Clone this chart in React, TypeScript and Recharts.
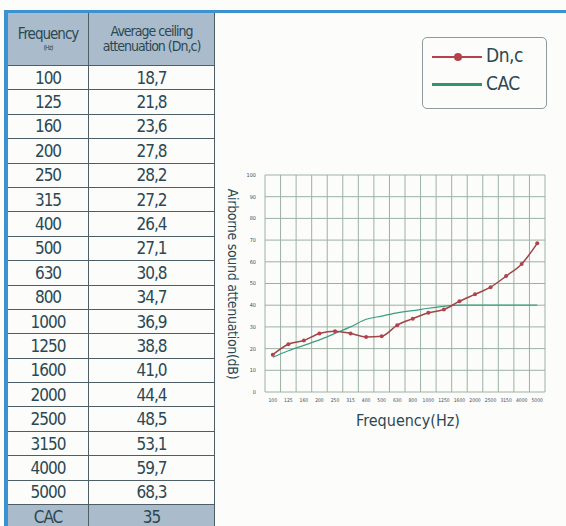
import React from 'react';
import { LineChart, Line, XAxis, YAxis, CartesianGrid } from 'recharts';

// frequency bands (Hz)
const frequencies = [100, 125, 160, 200, 250, 315, 400, 500, 630, 800, 1000, 1250, 1600, 2000, 2500, 3150, 4000, 5000];
// table column: average ceiling attenuation
const tableDnc = ['18,7', '21,8', '23,6', '27,8', '28,2', '27,2', '26,4', '27,1', '30,8', '34,7', '36,9', '38,8', '41,0', '44,4', '48,5', '53,1', '59,7', '68,3'];
// curve as drawn in the plot
const plotDnc = [17.2, 22, 23.7, 27, 28, 27, 25.4, 25.7, 30.8, 33.8, 36.5, 38, 41.8, 45, 48.3, 53.4, 59, 68.5];
const plotCac = [16, 19, 21.5, 24, 27, 30, 33.5, 35, 36.5, 37.5, 38.6, 39.5, 40, 40, 40, 40, 40, 40];
const yTicks = [0, 10, 20, 30, 40, 50, 60, 70, 80, 90, 100];
const cacValue = '35';

const chartData = frequencies.map((f, i) => ({ idx: i, freq: f, dnc: plotDnc[i], cac: plotCac[i] }));

const FONT = '"DejaVu Sans Condensed", "Liberation Sans Narrow", "Arial Narrow", sans-serif';
const TEXT = '#2b4853';
const LINE = '#4d5e66';
const HEAD_BG = '#aabccb';

const ROW_H = 24.4;

function Cell({ w, children, bg, size = 17 }: { w: number; children: React.ReactNode; bg?: string; size?: number }) {
  return (
    <div
      style={{
        width: w,
        height: '100%',
        display: 'flex',
        alignItems: 'center',
        justifyContent: 'center',
        boxSizing: 'border-box',
        borderRight: `1px solid ${LINE}`,
        background: bg,
        fontSize: size,
        letterSpacing: -1,
      }}
    >
      {children}
    </div>
  );
}

function Table() {
  return (
    <div style={{ position: 'absolute', left: 8, top: 13, width: 207, fontFamily: FONT, color: TEXT }}>
      <div style={{ display: 'flex', height: 53, borderBottom: `1px solid ${LINE}`, boxSizing: 'border-box', background: HEAD_BG }}>
        <Cell w={81}>
          <div style={{ textAlign: 'center', lineHeight: 1 }}>
            <div style={{ fontSize: 15 }}>Frequency</div>
            <div style={{ fontSize: 7, marginTop: 3 }}>(Hz)</div>
          </div>
        </Cell>
        <Cell w={126}>
          <div style={{ textAlign: 'center', lineHeight: 1.1, fontSize: 14 }}>
            <div>Average ceiling</div>
            <div>attenuation (Dn,c)</div>
          </div>
        </Cell>
      </div>
      {frequencies.map((f, i) => (
        <div key={f} style={{ display: 'flex', height: ROW_H, borderBottom: `1px solid ${LINE}`, boxSizing: 'border-box' }}>
          <Cell w={81}>{f}</Cell>
          <Cell w={126}>{tableDnc[i]}</Cell>
        </div>
      ))}
      <div style={{ display: 'flex', height: ROW_H, background: HEAD_BG }}>
        <Cell w={81}>CAC</Cell>
        <Cell w={126}>{cacValue}</Cell>
      </div>
    </div>
  );
}

function Legend() {
  return (
    <div
      style={{
        position: 'absolute',
        left: 422,
        top: 37,
        width: 125,
        height: 72,
        border: '1.5px solid #8e9a9e',
        borderRadius: 5,
        boxSizing: 'border-box',
        fontFamily: FONT,
        color: TEXT,
        fontSize: 19,
      }}
    >
      <div style={{ position: 'absolute', left: 9, top: 18, width: 50, height: 2, background: '#b5404e' }} />
      <div style={{ position: 'absolute', left: 31, top: 15, width: 8, height: 8, borderRadius: 4, background: '#b5404e' }} />
      <div style={{ position: 'absolute', left: 63, top: 6, letterSpacing: -0.5 }}>Dn,c</div>
      <div style={{ position: 'absolute', left: 9, top: 45, width: 50, height: 2.5, background: '#2e9472' }} />
      <div style={{ position: 'absolute', left: 63, top: 34, letterSpacing: -0.5 }}>CAC</div>
    </div>
  );
}

export default function App() {
  return (
    <div style={{ position: 'absolute', left: 0, top: 0, width: 566, height: 526, background: '#fcfcfb', overflow: 'hidden' }}>
      <div style={{ position: 'absolute', left: 4, top: 10, width: 562, height: 3, background: '#3a92d0' }} />
      <div style={{ position: 'absolute', left: 4, top: 10, width: 4, height: 516, background: '#3a92d0' }} />
      <Table />
      <Legend />
      <div
        style={{
          position: 'absolute',
          left: 233,
          top: 284,
          transform: 'translate(-50%, -50%) rotate(90deg)',
          whiteSpace: 'nowrap',
          fontFamily: FONT,
          fontSize: 14,
          letterSpacing: -0.3,
          color: TEXT,
        }}
      >
        Airborne sound attenuation(dB)
      </div>
      <div
        style={{
          position: 'absolute',
          left: 408,
          top: 420,
          transform: 'translate(-50%, -50%)',
          whiteSpace: 'nowrap',
          fontFamily: FONT,
          fontSize: 16,
          color: TEXT,
        }}
      >
        Frequency(Hz)
      </div>
      <div style={{ position: 'absolute', left: 215, top: 160 }}>
        <LineChart width={351} height={280} data={chartData} margin={{ top: 15, right: 21, bottom: 28, left: 32 }}>
          <CartesianGrid
            stroke="#9bb2a3"
            strokeWidth={1}
            verticalCoordinatesGenerator={({ offset }: any) =>
              Array.from({ length: frequencies.length + 1 }, (_, k) => offset.left + (offset.width * k) / frequencies.length)
            }
          />
          <XAxis
            type="number"
            dataKey="idx"
            domain={[-0.5, frequencies.length - 0.5]}
            ticks={chartData.map((d) => d.idx)}
            tickFormatter={(v: number) => String(frequencies[v] ?? '')}
            interval={0}
            axisLine={false}
            tickLine={false}
            tick={{ fill: '#3a4e58', fontSize: 5, fontFamily: FONT }}
            tickMargin={0}
            height={20}
          />
          <YAxis
            type="number"
            domain={[0, 100]}
            ticks={yTicks}
            interval={0}
            axisLine={false}
            tickLine={false}
            tick={{ fill: '#3a4e58', fontSize: 5.5, fontFamily: FONT }}
            tickMargin={3}
            width={18}
          />
          <Line
            type="monotone"
            dataKey="cac"
            stroke="#3a9e80"
            strokeWidth={1.2}
            dot={false}
            isAnimationActive={false}
          />
          <Line
            type="monotone"
            dataKey="dnc"
            stroke="#9e4545"
            strokeWidth={1.5}
            dot={{ r: 2, fill: '#b5404e', stroke: '#b5404e', strokeWidth: 0 }}
            isAnimationActive={false}
          />
        </LineChart>
      </div>
    </div>
  );
}
